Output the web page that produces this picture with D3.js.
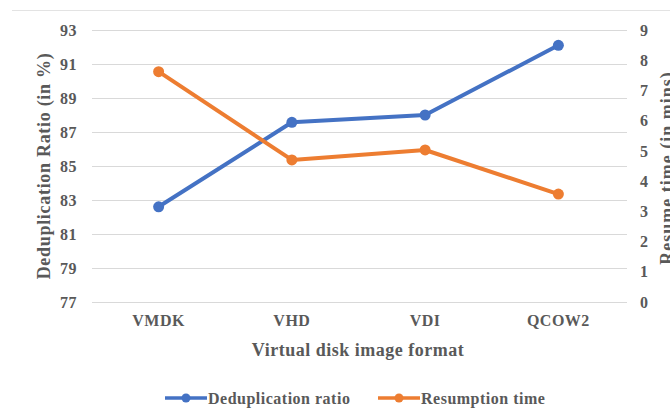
<!DOCTYPE html>
<html>
<head>
<meta charset="utf-8">
<script src="https://cdn.jsdelivr.net/npm/d3@7"></script>
<style>
  html, body { margin: 0; padding: 0; background: #fff; }
  svg { display: block; }
  text { font-family: "Liberation Serif", "Times New Roman", serif; font-weight: bold; }
</style>
</head>
<body>
<svg id="chart" width="670" height="410"></svg>
<script>
// Disk image formats on the x axis
const formats = ["VMDK", "VHD", "VDI", "QCOW2"];
// Deduplication ratio in percent (left axis)
const dedupRatio = [82.6, 87.57, 88.0, 92.1];
// Resumption time in minutes (right axis)
const resumeTime = [7.62, 4.7, 5.03, 3.57];
// Tick values for both axes
const leftTicks = [77, 79, 81, 83, 85, 87, 89, 91, 93];
const rightTicks = [0, 1, 2, 3, 4, 5, 6, 7, 8, 9];

const svg = d3.select("#chart");
const W = 670, H = 410;
const plot = { left: 92, right: 625, top: 30, bottom: 302 };

const blue = "#4472C4", orange = "#ED7D31";
const textColor = "#595959";

// top border of the chart area
svg.append("line")
  .attr("x1", 12).attr("x2", W).attr("y1", 10.5).attr("y2", 10.5)
  .attr("stroke", "#e3e3e3").attr("stroke-width", 1);

const x = d3.scaleBand().domain(formats).range([plot.left, plot.right]);
const yL = d3.scaleLinear().domain([77, 93]).range([plot.bottom, plot.top]);
const yR = d3.scaleLinear().domain([0, 9]).range([plot.bottom, plot.top]);

// horizontal gridlines
svg.append("g").selectAll("line").data(leftTicks).join("line")
  .attr("x1", plot.left).attr("x2", plot.right + 2)
  .attr("y1", d => Math.round(yL(d)) + 0.5).attr("y2", d => Math.round(yL(d)) + 0.5)
  .attr("stroke", "#d9d9d9").attr("stroke-width", 1);

function styleTicks(g) {
  g.select(".domain").remove();
  g.selectAll("text")
    .attr("fill", textColor)
    .style("font-size", "16px")
    .style("letter-spacing", "0.5px")
    .style("font-family", "'Liberation Serif', 'Times New Roman', serif")
    .style("font-weight", "bold");
}

// left axis
svg.append("g")
  .attr("transform", `translate(${plot.left},0)`)
  .call(d3.axisLeft(yL).tickValues(leftTicks).tickSize(0).tickPadding(15))
  .call(styleTicks);

// right axis
svg.append("g")
  .attr("transform", `translate(${plot.right},0)`)
  .call(d3.axisRight(yR).tickValues(rightTicks).tickSize(0).tickPadding(15))
  .call(styleTicks);

// bottom axis (category labels)
svg.append("g")
  .attr("transform", `translate(0,${plot.bottom})`)
  .call(d3.axisBottom(x).tickSize(0).tickPadding(13))
  .call(styleTicks);

// axis titles
svg.append("text")
  .attr("transform", "translate(50,166) rotate(-90)")
  .attr("text-anchor", "middle").attr("fill", textColor)
  .style("font-size", "18px").style("letter-spacing", "0.7px")
  .text("Deduplication Ratio (in %)");

svg.append("text")
  .attr("transform", "translate(673,168) rotate(-90)")
  .attr("text-anchor", "middle").attr("fill", textColor)
  .style("font-size", "18px").style("letter-spacing", "1px")
  .text("Resume time (in mins)");

svg.append("text")
  .attr("x", 358).attr("y", 356)
  .attr("text-anchor", "middle").attr("fill", textColor)
  .style("font-size", "18px").style("letter-spacing", "0.5px")
  .text("Virtual disk image format");

// series lines and markers
const series = [
  { name: "Deduplication ratio", values: dedupRatio, y: yL, color: blue },
  { name: "Resumption time", values: resumeTime, y: yR, color: orange }
];

series.forEach(s => {
  const line = d3.line()
    .x((d, i) => x(formats[i]) + x.bandwidth() / 2)
    .y(d => s.y(d));
  svg.append("path")
    .datum(s.values)
    .attr("d", line)
    .attr("fill", "none")
    .attr("stroke", s.color)
    .attr("stroke-width", 4)
    .attr("stroke-linejoin", "round")
    .attr("stroke-linecap", "round");
  svg.append("g").selectAll("circle").data(s.values).join("circle")
    .attr("cx", (d, i) => x(formats[i]) + x.bandwidth() / 2)
    .attr("cy", d => s.y(d))
    .attr("r", 5.5)
    .attr("fill", s.color);
});

// legend
const legendItems = [
  { name: "Deduplication ratio", color: blue, x: 165 },
  { name: "Resumption time", color: orange, x: 378 }
];
legendItems.forEach(it => {
  const g = svg.append("g").attr("transform", `translate(${it.x},398)`);
  g.append("line").attr("x1", 0).attr("x2", 42).attr("y1", 0).attr("y2", 0)
    .attr("stroke", it.color).attr("stroke-width", 3.5);
  g.append("circle").attr("cx", 21).attr("cy", 0).attr("r", 4.5).attr("fill", it.color);
  g.append("text").attr("x", 43).attr("y", 6)
    .attr("fill", textColor)
    .style("font-size", "16px").style("letter-spacing", "0.5px")
    .text(it.name);
});
</script>
</body>
</html>
